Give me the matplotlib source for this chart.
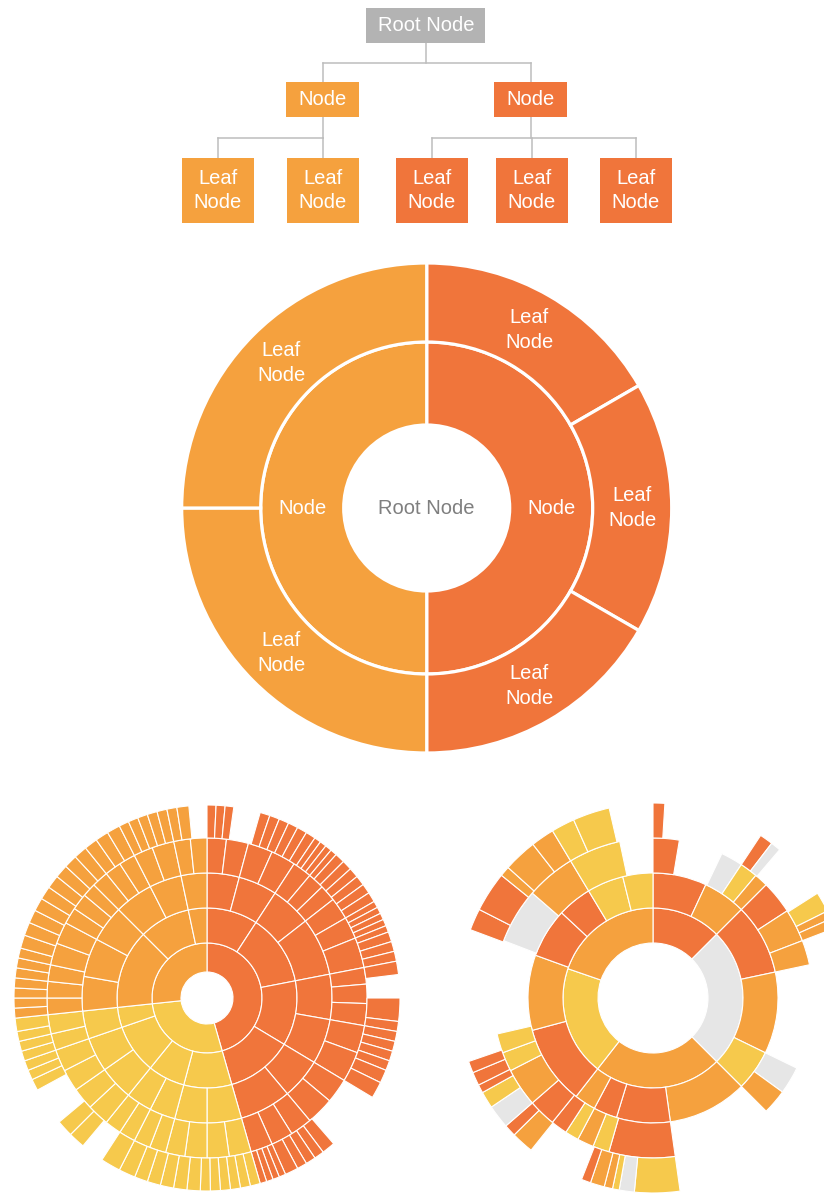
import numpy as np
from matplotlib import pyplot as plt
from matplotlib.patches import Wedge, Rectangle

plt.rcParams['font.family'] = ['Liberation Sans', 'DejaVu Sans']

colours = {'L': '#F5A13E', 'D': '#F0753B', 'Y': '#F6C94C', 'G': '#E6E6E6',
           'R': '#B3B3B3'}

# ---- tree diagram (top) ----
tree_labels = [['Root Node'], ['Node', 'Node'], ['Leaf\nNode'] * 5]
tree_keys = [['R'], ['L', 'D'], ['L', 'L', 'D', 'D', 'D']]
tree_parent = [[], [0, 0], [0, 0, 1, 1, 1]]

# ---- big labelled sunburst: (size, colour) ----
big_ring1_sizes = [180, 180]
big_ring1_keys = 'DL'
big_ring1_labels = ['Node', 'Node']
big_ring2_sizes = [60, 60, 60, 90, 90]
big_ring2_keys = 'DDDLL'
big_ring2_labels = ['Leaf\nNode'] * 5

# ---- bottom left sunburst, colour inherited from the top branch ----
# sizes in degrees, clockwise from the top; negative = empty slot
sb1_branches = 'DYL'
sb1_ring1 = [164, 100, 96]
sb1_ring2 = [[33, 46, 42, 43], [31, 24, 32, 13], [51, 33, 12]]
sb1_ring3 = [[15, 18, 19, 27, 21, 21, 19, 24],
             [16, 15, 12, 12, 16, 16, 13],
             [16, 18, 17, 18, 15, 12]]
sb1_ring4 = [[7, 8, 9, 9, 7, 6, 6, 8, 8, 11, 6, 7, 8, 10, 11, 9, 10, 8, 8, 8],
             [8, 8, 8, 7, 6, 6, 6, 6, 8, 8, 8, 8, 6, 7],
             [6, 6, 6, 8, 8, 6, 6, 5, 6, 6, 6, 7, 8, 6, 6]]
sb1_ring5 = [[2.7, 2.7, 2.6, -8, 3, 3, 3, 3, 3, 3, 2, 2, 2, 2, 3, 3, 3, 3, 3, 3,
              2, 2, 2, 2, 2, 3, 3, 3, 4, -7, 7, 3, 3, 3, 3, 3, 4, 5, -18,
              4, 3, 3, 3, 4, 2, 2, 2, 2],
             [3, 3, 3, 3, 3, 3, 4, 4, 4, 4, 4, 5, 6, -7, 5, 5, -11.5,
              3.5, 3, 3, 3, 3, 3, 4],
             [3, 3, 3, 3, 3, 3, 3, 4, 4, 4, 4, 4, 4, 4, 4, 4, 4, 4, 4,
              3, 3, 3, 3, 3, 3, 3.6, -5.4]]

# ---- bottom right sunburst, every node its own colour ('-' = empty) ----
sb2_ring1_sizes = [45, 90, 83, 71, 71]
sb2_ring1_keys = 'DGLYL'
sb2_ring2_sizes = [25, 20, 33, 38, 19, 37, 25, 11, 10, 37, 35, 23, 16, 17, 14]
sb2_ring2_keys = 'DLDLYLDDLDLDDYY'
sb2_ring3_sizes = [9.5, 16, 8, 6.5, 5, 12, 12, 9, 38, 10, 9, 37, 24, 6, 6, 5, 6,
                   10, 14, 7, 7, 34, 20, 18, 19, 12]
sb2_ring3_keys = 'D-GYLDLL-GL-DYLYDDLYY-GLY-'
sb2_ring4_sizes = [3.5, 30, 4, 3, 17, 6, 2.5, 3, 103, 13.5, 4.5, 2, 2.5, 4.2, 2.8,
                   17.2, 6.7, 3.6, 7, 5, 2.5, 4, 3.5, 39.5, 6.5, 12, 3, 10, 7, 7,
                   11, 13]
sb2_ring4_keys = 'D-DG-YLL-YGYLLD-LDGYDDD-DDLLLYY-'


fig = plt.figure(figsize=(8.24, 11.93), dpi=100)
ax = fig.add_axes([0, 0, 1, 1])
ax.set_xlim(0, 824)
ax.set_ylim(1193, 0)
ax.axis('off')


def draw_ring(cx, cy, r0, r1, sizes, keys, lw, labels=None, fs=14.5):
    b = 0.0
    for i, (s, k) in enumerate(zip(sizes, keys)):
        if k != '-':
            ax.add_patch(Wedge((cx, cy), r1, b - 90, b + s - 90, width=r1 - r0,
                               facecolor=colours[k], edgecolor='white',
                               linewidth=lw))
            if labels is not None:
                a = np.radians(b + s / 2.0 - 90)
                rm = (r0 + r1) / 2.0
                ax.text(cx + rm * np.cos(a), cy + rm * np.sin(a), labels[i],
                        ha='center', va='center', color='white', fontsize=fs,
                        linespacing=1.38)
        b += s


# tree
box_x = [[426], [323, 531], [218, 323, 432, 532, 636]]
box_y = [25.5, 99.5, 190.5]
box_w = [[119], [73, 73], [72] * 5]
box_h = [35, 35, 65]
bar_y = [63, 138]
line_c = '#BDBDBD'
for lev in range(1, 3):
    mid = bar_y[lev - 1]
    for p in range(len(tree_labels[lev - 1])):
        kids = [i for i, q in enumerate(tree_parent[lev]) if q == p]
        if not kids:
            continue
        xs = [box_x[lev][i] for i in kids]
        ax.plot([box_x[lev - 1][p]] * 2, [box_y[lev - 1], mid], color=line_c, lw=1.1)
        ax.plot([min(xs), max(xs)], [mid, mid], color=line_c, lw=1.1)
        for x in xs:
            ax.plot([x, x], [mid, box_y[lev]], color=line_c, lw=1.1)
for lev in range(3):
    for i, lab in enumerate(tree_labels[lev]):
        w, h = box_w[lev][i], box_h[lev]
        ax.add_patch(Rectangle((box_x[lev][i] - w / 2, box_y[lev] - h / 2), w, h,
                               facecolor=colours[tree_keys[lev][i]],
                               edgecolor='none', zorder=3))
        ax.text(box_x[lev][i], box_y[lev], lab, ha='center', va='center',
                color='white', fontsize=14.5, linespacing=1.38, zorder=4)

# big sunburst
bcx, bcy = 426.7, 508
draw_ring(bcx, bcy, 83, 166, big_ring1_sizes, big_ring1_keys, 2.3, big_ring1_labels)
draw_ring(bcx, bcy, 166, 245, big_ring2_sizes, big_ring2_keys, 2.3, big_ring2_labels)
ax.text(bcx, bcy, 'Root Node', ha='center', va='center', color='#7F7F7F',
        fontsize=14.5)

# bottom left sunburst
c1x, c1y = 207, 998
r1 = [26, 55, 90, 125, 160, 193]
draw_ring(c1x, c1y, r1[0], r1[1], sb1_ring1, sb1_branches, 0.8)
for d, ring in enumerate([sb1_ring2, sb1_ring3, sb1_ring4, sb1_ring5]):
    sizes, keys = [], ''
    for br, segs in zip(sb1_branches, ring):
        for s in segs:
            sizes.append(abs(s))
            keys += br if s > 0 else '-'
    draw_ring(c1x, c1y, r1[d + 1], r1[d + 2], sizes, keys, 0.8)

# bottom right sunburst
c2x, c2y = 653, 998
r2 = [55, 90, 125, 160, 195]
rings2 = [(sb2_ring1_sizes, sb2_ring1_keys), (sb2_ring2_sizes, sb2_ring2_keys),
          (sb2_ring3_sizes, sb2_ring3_keys), (sb2_ring4_sizes, sb2_ring4_keys)]
for d, (sizes, keys) in enumerate(rings2):
    draw_ring(c2x, c2y, r2[d], r2[d + 1], sizes, keys, 0.8)

fig.savefig('out.png', dpi=100)
